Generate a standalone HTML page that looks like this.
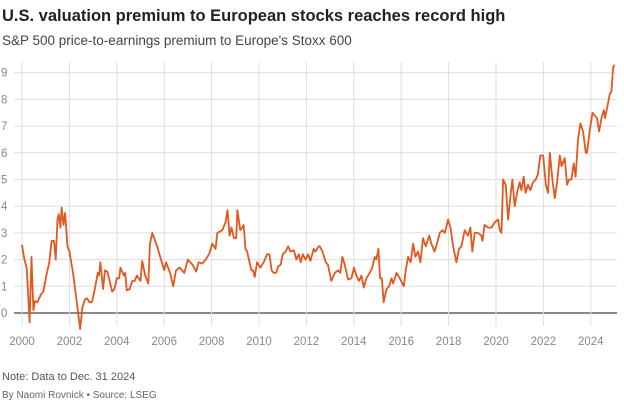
<!DOCTYPE html>
<html><head><meta charset="utf-8"><style>
body{margin:0;background:#fff;width:624px;height:401px;overflow:hidden;font-family:"Liberation Sans",sans-serif}
svg{display:block}
</style></head><body>
<svg id="chart" width="624" height="401">
<text x="2" y="21" font-size="16.5" font-weight="bold" fill="#222">U.S. valuation premium to European stocks reaches record high</text>
<text x="2" y="45" font-size="13.5" fill="#444">S&amp;P 500 price-to-earnings premium to Europe's Stoxx 600</text>
<g id="grid"></g><g id="axes"></g>
<path id="line" fill="none" stroke="#e2581e" stroke-width="1.8" stroke-linejoin="round"></path>
<text x="2" y="380" font-size="11" fill="#555">Note: Data to Dec. 31 2024</text>
<text x="2" y="398" font-size="10" fill="#666">By Naomi Rovnick  • Source: LSEG</text>
</svg>
<script>
const years=[2000,2000.1,2000.2,2000.32,2000.4,2000.48,2000.55,2000.65,2000.8,2000.9,2001.05,2001.15,2001.25,2001.35,2001.42,2001.5,2001.55,2001.62,2001.67,2001.75,2001.82,2001.92,2002,2002.15,2002.3,2002.45,2002.55,2002.65,2002.75,2002.85,2002.95,2003.05,2003.2,2003.25,2003.31,2003.42,2003.5,2003.6,2003.7,2003.8,2003.9,2004,2004.1,2004.15,2004.3,2004.35,2004.42,2004.55,2004.65,2004.75,2004.85,2005,2005.07,2005.2,2005.33,2005.4,2005.5,2005.7,2005.9,2006,2006.08,2006.25,2006.38,2006.5,2006.65,2006.85,2007,2007.2,2007.35,2007.45,2007.6,2007.75,2007.89,2008.03,2008.17,2008.24,2008.45,2008.59,2008.67,2008.76,2008.84,2008.94,2009.04,2009.09,2009.21,2009.29,2009.35,2009.43,2009.5,2009.6,2009.68,2009.75,2009.82,2009.92,2010.06,2010.2,2010.34,2010.44,2010.53,2010.62,2010.72,2010.81,2010.91,2011,2011.12,2011.23,2011.33,2011.47,2011.58,2011.68,2011.76,2011.85,2011.96,2012.07,2012.17,2012.31,2012.38,2012.52,2012.56,2012.68,2012.82,2012.91,2013.05,2013.2,2013.34,2013.43,2013.52,2013.62,2013.76,2013.9,2014.01,2014.11,2014.22,2014.32,2014.42,2014.53,2014.67,2014.78,2014.88,2014.95,2015.04,2015.11,2015.18,2015.26,2015.38,2015.49,2015.59,2015.66,2015.8,2015.94,2016.11,2016.19,2016.29,2016.4,2016.5,2016.6,2016.71,2016.81,2016.92,2017.04,2017.18,2017.27,2017.41,2017.51,2017.63,2017.74,2017.84,2017.98,2018.08,2018.19,2018.33,2018.44,2018.54,2018.68,2018.82,2018.92,2019,2019.1,2019.24,2019.38,2019.43,2019.52,2019.66,2019.81,2019.95,2020.09,2020.16,2020.23,2020.3,2020.41,2020.51,2020.61,2020.69,2020.79,2020.89,2021,2021.07,2021.17,2021.25,2021.35,2021.45,2021.56,2021.68,2021.77,2021.87,2021.99,2022.1,2022.2,2022.27,2022.38,2022.48,2022.58,2022.69,2022.77,2022.9,2023,2023.08,2023.18,2023.28,2023.36,2023.46,2023.56,2023.67,2023.79,2023.84,2023.95,2024.07,2024.17,2024.26,2024.35,2024.45,2024.55,2024.6,2024.69,2024.8,2024.87,2024.94,2025.0];
const values=[2.55,2.0,1.7,-0.35,2.1,0.1,0.45,0.4,0.7,0.8,1.5,1.9,2.7,2.7,2.0,3.5,3.7,3.2,3.95,3.3,3.75,2.5,2.3,1.5,0.5,-0.6,0.2,0.5,0.55,0.4,0.4,0.8,1.5,1.4,1.9,0.9,1.6,1.55,1.2,0.8,0.9,1.3,1.3,1.7,1.4,1.5,0.85,0.9,1.2,1.2,1.4,1.2,1.95,1.4,1.1,2.6,3.0,2.5,1.9,1.6,1.9,1.5,1.0,1.6,1.7,1.5,2.0,1.8,1.55,1.9,1.85,2.0,2.2,2.6,2.4,3.0,3.1,3.4,3.85,2.9,3.2,2.8,2.8,3.85,3.1,3.2,3.3,2.4,2.3,1.9,1.6,1.6,1.35,1.9,1.7,1.9,2.2,2.2,1.6,1.5,1.5,1.75,1.8,2.2,2.3,2.5,2.3,2.35,2.0,2.2,1.9,2.2,2.0,2.2,1.95,2.4,2.3,2.5,2.5,2.3,1.9,1.8,1.2,1.5,1.6,1.5,2.1,1.8,1.25,1.3,1.7,1.4,1.2,1.4,0.95,1.3,1.5,1.7,2.1,2.0,2.4,1.3,1.3,0.4,0.9,1.0,1.3,1.1,1.5,1.3,1.0,1.6,2.1,1.9,2.6,2.1,2.3,1.9,2.8,2.5,2.9,2.6,2.3,2.6,3.0,3.1,3.0,3.5,3.2,2.5,1.9,2.4,2.5,3.1,2.9,3.2,2.3,3.0,3.0,2.9,2.7,3.3,3.2,3.2,3.4,3.5,3.1,3.0,5.0,4.8,3.5,4.4,5.0,4.0,4.5,4.9,4.6,5.1,4.5,4.8,4.6,4.9,5.0,5.2,5.9,5.9,4.8,4.5,6.0,5.0,4.3,4.9,5.9,5.5,5.8,4.8,5.0,5.0,5.6,5.1,6.5,7.1,6.8,6.0,6.0,6.8,7.5,7.4,7.3,6.8,7.3,7.6,7.3,7.7,8.2,8.3,9.2,9.3];
const yTicks=[0,1,2,3,4,5,6,7,8,9];
const xTicks=[2000,2002,2004,2006,2008,2010,2012,2014,2016,2018,2020,2022,2024];
const NS='http://www.w3.org/2000/svg';
const X=y=>22+(y-2000)*23.7, Y=v=>313-v*26.7;
const grid=document.getElementById('grid'), axes=document.getElementById('axes');
yTicks.forEach(t=>{
 const l=document.createElementNS(NS,'line');
 
 
 l.setAttribute('x1',14);l.setAttribute('x2',617);l.setAttribute('y1',Y(t));l.setAttribute('y2',Y(t));
 l.setAttribute('stroke',t===0?'#444':'#ddd');l.setAttribute('stroke-width',t===0?1.2:1);
 grid.appendChild(l);
 const tx=document.createElementNS(NS,'text');
 
 
 tx.setAttribute('x',1);tx.setAttribute('y',Y(t)+4);tx.setAttribute('font-size',11.5);tx.setAttribute('fill','#888');
 tx.textContent=t;axes.appendChild(tx);
});
xTicks.forEach(t=>{
 const l=document.createElementNS(NS,'line');
 
 
 l.setAttribute('x1',X(t));l.setAttribute('x2',X(t));l.setAttribute('y1',62);l.setAttribute('y2',326);
 l.setAttribute('stroke','#ddd');grid.appendChild(l);
 const tx=document.createElementNS(NS,'text');
 
 
 tx.setAttribute('x',X(t));tx.setAttribute('y',345);tx.setAttribute('font-size',11.5);tx.setAttribute('fill','#888');tx.setAttribute('text-anchor','middle');
 tx.textContent=t;axes.appendChild(tx);
});
document.getElementById('line').setAttribute('d',years.map((y,i)=>(i?'L':'M')+X(y).toFixed(1)+','+Y(values[i]).toFixed(1)).join(''));
</script>
</body></html>
